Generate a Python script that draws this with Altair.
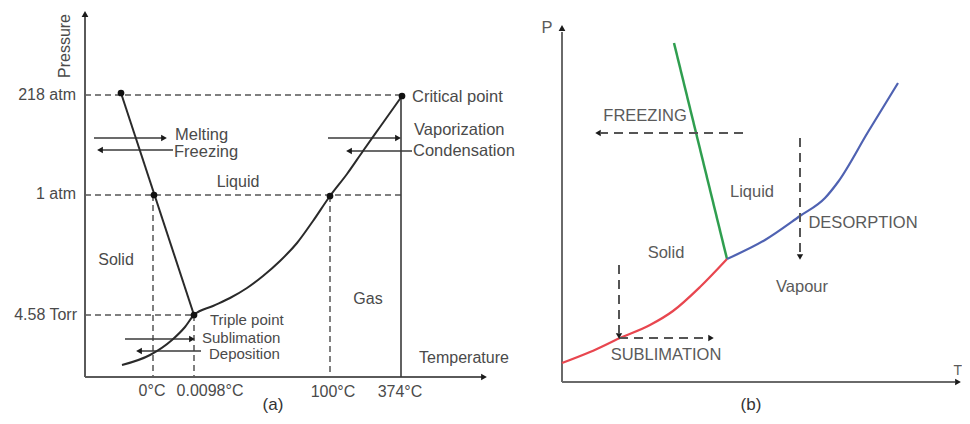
import altair as alt
import pandas as pd

FONT = "Liberation Sans"

# ---------------- Panel (a): water phase diagram (picture units) ----------------
a_curve_x = [122, 150, 172, 185, 194, 213, 230, 247, 263, 280, 297, 313, 330, 347, 363, 380, 402]
a_curve_y = [365, 355, 340, 327, 315, 306, 298, 288, 276, 261, 243, 221, 196, 174, 151, 127, 96]
a_melt_x = [121, 194]
a_melt_y = [93, 315]
a_dot_x = [121, 154, 194, 330, 402]
a_dot_y = [93, 195, 315, 196, 96]

a_dash_x1 = [85, 85, 85, 153, 194, 330]
a_dash_y1 = [95, 195, 315, 195, 315, 196]
a_dash_x2 = [402, 401, 194, 153, 194, 330]
a_dash_y2 = [95, 195, 315, 377, 377, 377]

a_axis_x1 = [85, 85]
a_axis_y1 = [377, 377]
a_axis_x2 = [85, 482]
a_axis_y2 = [16, 377]

a_solid_x1 = [401, 94, 173, 328, 412, 125, 201]
a_solid_y1 = [96, 138, 150, 138, 151, 339, 351]
a_solid_x2 = [401, 162, 102, 396, 351, 190, 141]
a_solid_y2 = [377, 138, 150, 138, 151, 339, 351]

a_head_x = [164, 398, 192, 100, 349, 139, 484, 85]
a_head_y = [138, 138, 339, 150, 151, 351, 377, 14]
a_head_s = ["triangle-right", "triangle-right", "triangle-right", "triangle-left",
            "triangle-left", "triangle-left", "triangle-right", "triangle-up"]

a_left_text = ["Melting", "Freezing", "Vaporization", "Condensation", "Critical point"]
a_left_x = [175, 174, 414, 413, 412]
a_left_y = [135, 152, 130, 151, 97]

a_small_text = ["Triple point", "Sublimation", "Deposition"]
a_small_x = [210, 202, 209]
a_small_y = [320, 338, 354]

a_right_text = ["218 atm", "1 atm", "4.58 Torr"]
a_right_x = [76, 76, 77]
a_right_y = [95, 194, 315]

a_center_text = ["Liquid", "Solid", "Gas", "Temperature",
                 "0°C", "0.0098°C", "100°C", "374°C"]
a_center_x = [238, 116, 368, 464, 152, 210, 333, 400]
a_center_y = [182, 260, 299, 358, 391, 391, 392, 392]

# ---------------- Panel (b): freeze-drying diagram ----------------
b_axis_x1 = [562, 562]
b_axis_y1 = [382, 382]
b_axis_x2 = [562, 955]
b_axis_y2 = [32, 382]
b_axhead_x = [562, 958]
b_axhead_y = [28, 382]
b_axhead_s = ["triangle-up", "triangle-right"]

b_green_x = [674, 727]
b_green_y = [43, 259]
b_red_x = [562, 590, 620, 650, 673, 700, 727]
b_red_y = [363, 352, 338, 325, 311, 287, 259]
b_blue_x = [727, 765, 800, 825, 838, 868, 898]
b_blue_y = [259, 240, 216, 198, 182, 132, 83]

b_dash_x1 = [743, 800, 619, 619]
b_dash_y1 = [133, 138, 265, 338]
b_dash_x2 = [601, 800, 619, 708]
b_dash_y2 = [133, 254, 333, 338]
b_head_x = [598, 800, 619, 711]
b_head_y = [133, 257, 336, 338]
b_head_s = ["triangle-left", "triangle-down", "triangle-down", "triangle-right"]

b_text = ["P", "FREEZING", "Liquid", "DESORPTION", "Vapour", "Solid", "SUBLIMATION"]
b_text_x = [547, 645, 752, 863, 802, 666, 666]
b_text_y = [28, 116, 192, 223, 287, 253, 355]

b_edge_text = ["T"]
b_edge_x = [962]
b_edge_y = [371]

panel_text = ["(a)", "(b)"]
panel_x = [273, 751]
panel_y = [405, 405]

# ---------------- chart construction ----------------
XS = alt.Scale(domain=[8, 962])
YS = alt.Scale(domain=[8, 416], reverse=True)
X = alt.X("x:Q", scale=XS, axis=None)
Y = alt.Y("y:Q", scale=YS, axis=None)


def segs(x1, y1, x2, y2):
    return pd.DataFrame({"x": x1, "y": y1, "x2": x2, "y2": y2})


def rules(df, color, width, dash=None):
    kw = dict(color=color, strokeWidth=width)
    if dash:
        kw["strokeDash"] = dash
    return alt.Chart(df).mark_rule(**kw).encode(x=X, y=Y, x2="x2:Q", y2="y2:Q")


def curve(xs, ys, color, width, interp="monotone"):
    df = pd.DataFrame({"x": xs, "y": ys, "i": list(range(len(xs)))})
    return alt.Chart(df).mark_line(color=color, strokeWidth=width, interpolate=interp).encode(
        x=X, y=Y, order="i:Q")


def heads(xs, ys, shapes, color, size):
    df = pd.DataFrame({"x": xs, "y": ys, "s": shapes})
    return alt.Chart(df).mark_point(filled=True, opacity=1, color=color, size=size).encode(
        x=X, y=Y, shape=alt.Shape("s:N", scale=None, legend=None))


def texts(labels, xs, ys, align, color, size, **extra):
    df = pd.DataFrame({"x": xs, "y": ys, "t": labels})
    return alt.Chart(df).mark_text(align=align, baseline="middle", font=FONT,
                                   fontSize=size, color=color, **extra).encode(
        x=X, y=Y, text="t:N")


A_INK = "#2a2a2a"
A_TXT = "#4a4a4a"
B_TXT = "#5a5a5a"

layers = [
    # panel a
    rules(segs(a_dash_x1, a_dash_y1, a_dash_x2, a_dash_y2), "#555555", 1.5, [6, 4]),
    rules(segs(a_axis_x1, a_axis_y1, a_axis_x2, a_axis_y2), "#5a5a5a", 2),
    rules(segs(a_solid_x1, a_solid_y1, a_solid_x2, a_solid_y2), "#3a3a3a", 1.6),
    curve(a_curve_x, a_curve_y, A_INK, 2),
    curve(a_melt_x, a_melt_y, A_INK, 2, "linear"),
    heads(a_head_x, a_head_y, a_head_s, "#1a1a1a", 45),
    alt.Chart(pd.DataFrame({"x": a_dot_x, "y": a_dot_y})).mark_circle(
        color="#111111", size=45, opacity=1).encode(x=X, y=Y),
    texts(a_left_text, a_left_x, a_left_y, "left", A_TXT, 16.5),
    texts(a_small_text, a_small_x, a_small_y, "left", A_TXT, 15),
    texts(a_right_text, a_right_x, a_right_y, "right", A_TXT, 16),
    texts(a_center_text, a_center_x, a_center_y, "center", A_TXT, 16),
    texts(["Pressure"], [65], [46], "center", A_TXT, 16, angle=270),
    # panel b
    rules(segs(b_axis_x1, b_axis_y1, b_axis_x2, b_axis_y2), "#6a6a6a", 2),
    heads(b_axhead_x, b_axhead_y, b_axhead_s, "#1a1a1a", 45),
    curve(b_green_x, b_green_y, "#2f9e4f", 2.5, "linear"),
    curve(b_red_x, b_red_y, "#e8464f", 2.2),
    curve(b_blue_x, b_blue_y, "#4f62b2", 2.2),
    rules(segs(b_dash_x1, b_dash_y1, b_dash_x2, b_dash_y2), "#555555", 2, [9, 6]),
    heads(b_head_x, b_head_y, b_head_s, "#1a1a1a", 40),
    texts(b_text, b_text_x, b_text_y, "center", B_TXT, 16.5),
    texts(b_edge_text, b_edge_x, b_edge_y, "right", B_TXT, 14),
    # panel labels
    texts(panel_text, panel_x, panel_y, "center", "#333333", 17),
]

chart = alt.layer(*layers).properties(
    width=954, height=408, autosize="none", padding=0
).configure_view(stroke=None)

chart.save("out.html", embed_options={"renderer": "svg", "actions": False})
